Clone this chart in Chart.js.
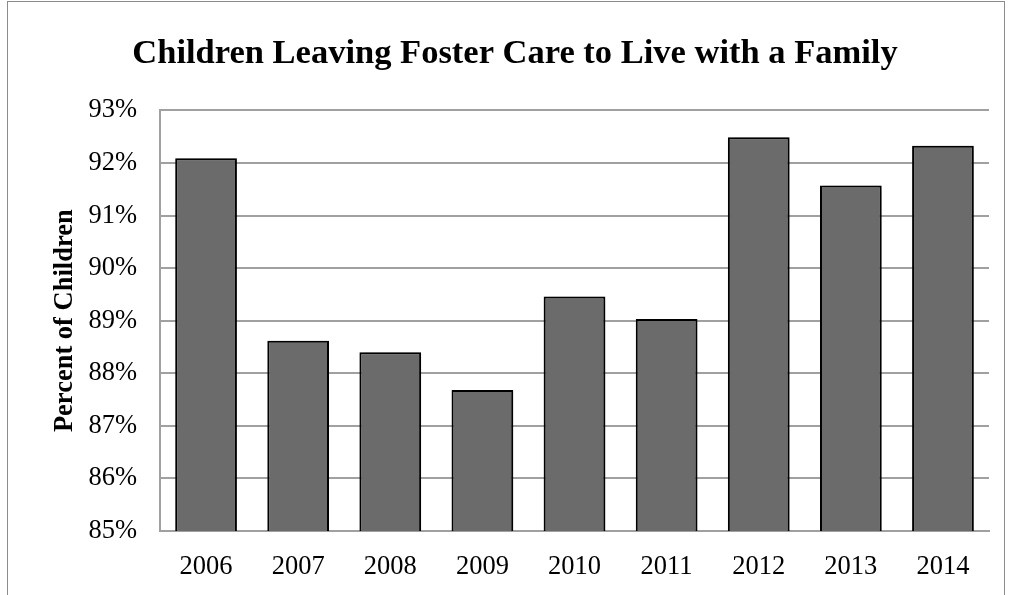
<!DOCTYPE html>
<html>
<head>
<meta charset="utf-8">
<script src="https://cdn.jsdelivr.net/npm/chart.js@4/dist/chart.umd.min.js"></script>
<style>
  html, body { margin: 0; padding: 0; background: #fff; }
  #wrap { position: relative; width: 1009px; height: 595px; overflow: hidden; }
  #frame { position: absolute; left: 7px; top: 1px; width: 998px; height: 640px; border: 1px solid #8c8c8c; box-sizing: border-box; pointer-events: none; }
  canvas { position: absolute; left: 0; top: 0; }
</style>
</head>
<body>
<div id="wrap">
  <canvas id="chart" width="1009" height="595"></canvas>
  <div id="frame"></div>
</div>
<script>
// years and share of children leaving care to a family (%)
const years = ['2006', '2007', '2008', '2009', '2010', '2011', '2012', '2013', '2014'];
const percentFamily = [92.09, 88.62, 88.40, 87.68, 89.46, 89.03, 92.49, 91.57, 92.33];
const yTicks = [85, 86, 87, 88, 89, 90, 91, 92, 93];

const barShadow = {
	id: 'barShadow',
	beforeDatasetsDraw(chart) {
		const ctx = chart.ctx;
		ctx.save();
		ctx.shadowColor = 'rgba(0,0,0,0.35)';
		ctx.shadowBlur = 5;
		ctx.shadowOffsetX = 2;
		ctx.shadowOffsetY = 1;
	},
	afterDatasetsDraw(chart) {
		chart.ctx.restore();
	}
};

new Chart(document.getElementById('chart'), {
	type: 'bar',
	data: {
		labels: years,
		datasets: [{
			label: 'Percent of Children',
			data: percentFamily,
			backgroundColor: '#6b6b6b',
			borderColor: '#000',
			borderWidth: 2,
			barPercentage: 0.67,
			categoryPercentage: 1
		}]
	},
	options: {
		responsive: false,
		animation: false,
		devicePixelRatio: 1,
		layout: { padding: { left: 41, right: 20, top: 0, bottom: 0 } },
		plugins: {
			legend: { display: false },
			tooltip: { enabled: false },
			title: {
				display: true,
				text: 'Children Leaving Foster Care to Live with a Family',
				color: '#000',
				font: { family: 'Liberation Serif', size: 34.5, weight: 'bold' },
				padding: { top: 33, bottom: 36 }
			}
		},
		scales: {
			x: {
				grid: { display: false, drawTicks: false },
				border: { color: '#a0a0a0', width: 2 },
				ticks: {
					color: '#000',
					padding: 20,
					font: { family: 'Liberation Serif', size: 26.5 }
				},
				afterFit(s) { s.height = 64; }
			},
			y: {
				min: 85,
				max: 93,
				afterBuildTicks(s) { s.ticks = yTicks.map(v => ({ value: v })); },
				grid: { color: '#a0a0a0', lineWidth: 2, drawTicks: false },
				border: { color: '#a0a0a0', width: 2 },
				ticks: {
					color: '#000',
					padding: 23,
					font: { family: 'Liberation Serif', size: 26.5 },
					callback: v => v + '%'
				},
				title: {
					display: true,
					text: 'Percent of Children',
					color: '#000',
					font: { family: 'Liberation Serif', size: 26.5, weight: 'bold' },
					padding: { top: 8, bottom: 0 }
				},
				afterFit(s) { s.width = 119; }
			}
		}
	},
	plugins: [barShadow, {
		id: 'whiteBg',
		beforeDraw(chart) {
			const ctx = chart.ctx;
			ctx.save();
			ctx.fillStyle = '#fff';
			ctx.fillRect(0, 0, chart.width, chart.height);
			ctx.restore();
		}
	}]
});
</script>
</body>
</html>
